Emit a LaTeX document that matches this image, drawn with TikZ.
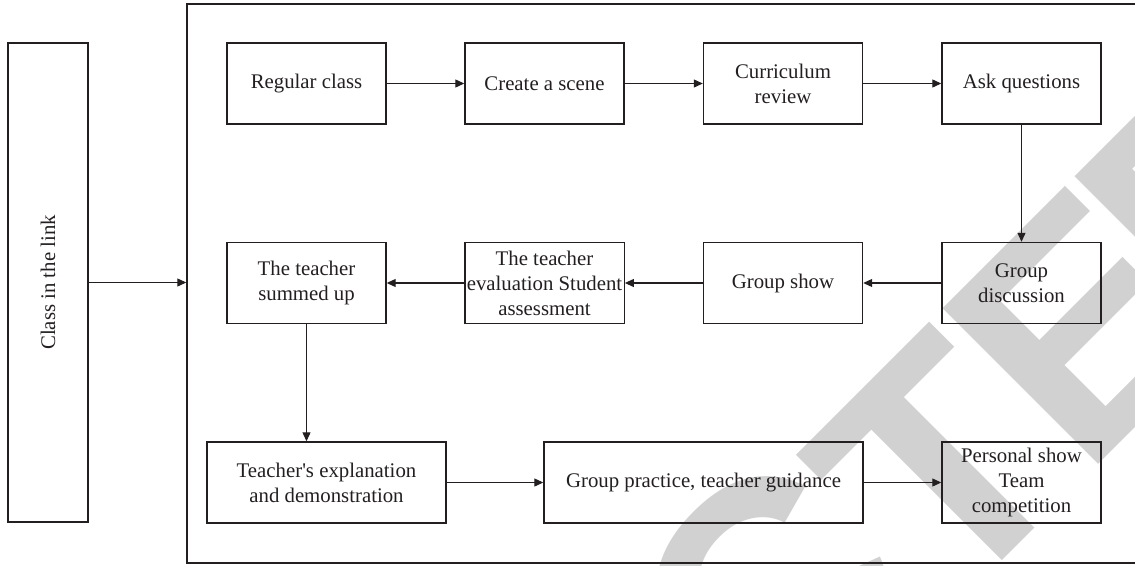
\documentclass[tikz,border=0pt]{standalone}
\usepackage{fontspec}
\setmainfont{Liberation Serif}
\newfontfamily\wmfont{Liberation Sans}[BoldFont=* Bold]
\usetikzlibrary{arrows.meta}
\definecolor{ink}{HTML}{231F20}
\tikzset{
  box/.style={draw=ink, line width=1.4pt, minimum width=159pt, minimum height=81pt, inner sep=2pt,
    align=center, text=ink, font=\fontsize{20.8pt}{25pt}\selectfont},
  conn/.style={draw=ink, line width=1.1pt, -{Triangle[length=9pt,width=8pt]}},
  wm/.style={anchor=base west, inner sep=0pt, rotate=45, text=black!18,
    font=\wmfont\bfseries\fontsize{320pt}{320pt}\selectfont}
}
\begin{document}
\begin{tikzpicture}[x=1pt,y=-1pt]
\useasboundingbox (0,0) rectangle (1135,565);
\begin{scope}
\clip (0,0) rectangle (1135,565);
% watermark
\node[wm] (wmC) at (765,757) {C};
\node[wm] (wmT) at (949,614) {T};
\node[wm] (wmE) at (1083.5,479.5) {E};
\node[wm] (wmD) at (1215,348) {D};
% outer frame (right side runs off the picture)
\node[draw=ink, line width=1.4pt, minimum width=963pt, minimum height=559pt, inner sep=0pt] (frame) at (668.5,283.5) {};
\end{scope}

\node[box, minimum width=80pt, minimum height=479pt] (cls) at (48,282.5) {\rotatebox{90}{Class in the link}};

\node[box] (regular) at (306.5,83.5) {Regular class};
\node[box] (scene) at (544.5,83.5) {Create a scene};
\node[box] (review) at (783,83.5) {Curriculum\\review};
\node[box] (ask) at (1021.5,83.5) {Ask questions};

\node[box] (summed) at (306.5,283) {The teacher\\summed up};
\node[box] (evalu) at (544.5,283) {The teacher\\evaluation Student\\assessment};
\node[box] (gshow) at (783,283) {Group show};
\node[box] (gdisc) at (1021.5,283) {Group\\discussion};

\node[box, minimum width=239pt] (expl) at (326.5,482.5) {Teacher\textquotesingle s explanation\\and demonstration};
\node[box, minimum width=319pt] (practice) at (703.5,482.5) {Group practice, teacher guidance};
\node[box] (personal) at (1021.5,482.5) {Personal show\\Team\\competition};

\draw[conn] (cls.east) -- (cls.east -| frame.west);
\draw[conn] (regular) -- (scene);
\draw[conn] (scene) -- (review);
\draw[conn] (review) -- (ask);
\draw[conn] (ask) -- (gdisc);
\draw[conn] (gdisc) -- (gshow);
\draw[conn] (gshow) -- (evalu);
\draw[conn] (evalu) -- (summed);
\draw[conn] (summed.south) -- (summed.south |- expl.north);
\draw[conn] (expl) -- (practice);
\draw[conn] (practice) -- (personal);
\end{tikzpicture}
\end{document}
